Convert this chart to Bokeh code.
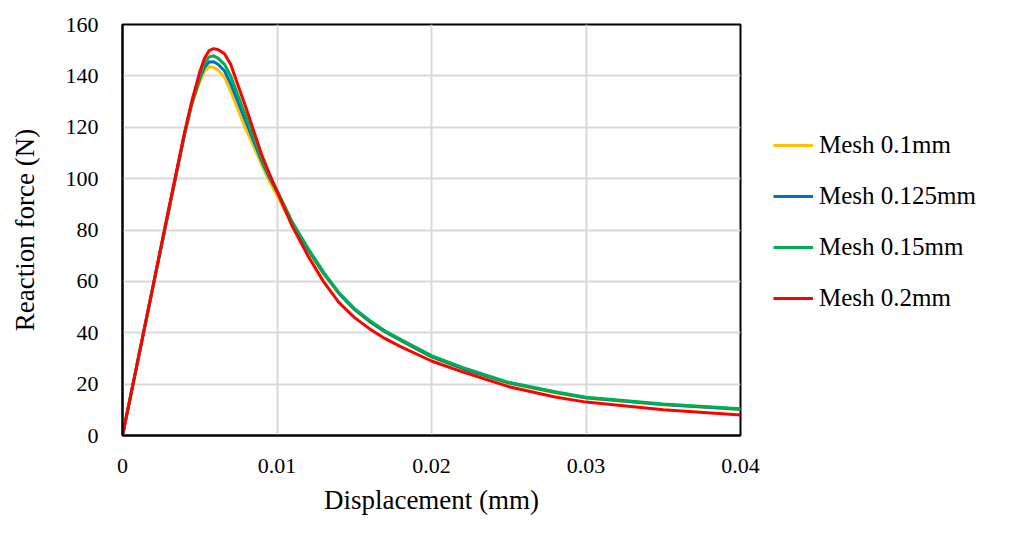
from bokeh.plotting import figure
from bokeh.models import Range1d, FixedTicker, Legend, LegendItem
from bokeh.embed import file_html
from bokeh.resources import INLINE

# displacement (mm)
disp = [0, 0.001, 0.002, 0.003, 0.004, 0.0045, 0.005, 0.0053, 0.0056, 0.0059, 0.0062,
        0.0066, 0.007, 0.0075, 0.008, 0.0085, 0.009, 0.0095, 0.01, 0.011, 0.012, 0.013,
        0.014, 0.015, 0.016, 0.017, 0.018, 0.02, 0.022, 0.025, 0.028, 0.03, 0.035, 0.04]

mesh_01 = [0, 29.2, 58.5, 87.5, 116.5, 129.0, 137.5, 141.8, 143.6, 143.4, 142.2,
           139.5, 134.0, 126.5, 119.0, 112.5, 105.5, 99.0, 93.5, 81.8, 72.0, 63.0,
           55.2, 49.0, 44.2, 40.2, 36.9, 30.5, 25.9, 20.3, 16.6, 14.6, 12.0, 10.1]
mesh_0125 = [0, 29.3, 58.6, 87.8, 116.8, 129.5, 139.0, 143.3, 145.4, 145.5, 144.4,
             142.0, 137.0, 129.5, 122.0, 114.5, 107.0, 100.5, 95.0, 82.5, 72.5, 63.3,
             55.4, 49.2, 44.4, 40.4, 37.1, 30.7, 26.1, 20.5, 16.8, 14.7, 12.1, 10.2]
mesh_015 = [0, 29.4, 58.8, 88.0, 117.0, 130.0, 139.8, 144.8, 147.4, 147.8, 146.8,
            144.5, 140.0, 132.0, 124.0, 116.0, 108.0, 101.5, 95.5, 83.0, 73.0, 63.7,
            55.7, 49.5, 44.8, 40.7, 37.4, 31.1, 26.5, 20.7, 17.0, 14.9, 12.3, 10.4]
mesh_02 = [0, 29.5, 59.0, 88.5, 117.5, 130.5, 141.5, 146.8, 149.8, 150.6, 150.2,
           148.6, 144.5, 136.0, 127.5, 118.5, 109.5, 102.0, 95.0, 81.3, 70.0, 60.0,
           51.8, 46.0, 41.5, 37.7, 34.6, 29.0, 24.8, 19.0, 15.0, 13.0, 10.0, 8.0]

series_names = ["Mesh 0.1mm", "Mesh 0.125mm", "Mesh 0.15mm", "Mesh 0.2mm"]
series_colors = ["#FFC000", "#0070C0", "#00B050", "#FF0000"]
series_values = [mesh_01, mesh_0125, mesh_015, mesh_02]

x_ticks = [0, 0.01, 0.02, 0.03, 0.04]
x_tick_labels = ["0", "0.01", "0.02", "0.03", "0.04"]
y_ticks = [0, 20, 40, 60, 80, 100, 120, 140, 160]

FONT = "Liberation Serif"

p = figure(frame_width=618, frame_height=411, output_backend="svg", toolbar_location=None,
           x_range=Range1d(0, 0.04), y_range=Range1d(0, 160),
           min_border_left=122, min_border_right=0, min_border_top=24, min_border_bottom=90)

p.background_fill_color = "white"
p.border_fill_color = "white"
p.outline_line_color = "black"
p.outline_line_width = 2

p.xaxis.ticker = FixedTicker(ticks=x_ticks)
p.yaxis.ticker = FixedTicker(ticks=y_ticks)
p.xaxis.major_label_overrides = {t: l for t, l in zip(x_ticks, x_tick_labels)}

for ax in (p.xaxis, p.yaxis):
    ax.axis_line_color = "black"
    ax.axis_line_width = 2
    ax.major_tick_line_color = None
    ax.minor_tick_line_color = None
    ax.major_tick_in = 0
    ax.major_tick_out = 0
    ax.minor_tick_in = 0
    ax.minor_tick_out = 0
    ax.major_label_text_font = FONT
    ax.major_label_text_font_size = "22px"
    ax.major_label_text_color = "black"
    ax.axis_label_text_font = FONT
    ax.axis_label_text_font_size = "27px"
    ax.axis_label_text_font_style = "normal"
    ax.axis_label_text_color = "black"

p.xaxis.axis_label = "Displacement (mm)"
p.yaxis.axis_label = "Reaction force (N)"
p.xaxis.major_label_standoff = 23
p.yaxis.major_label_standoff = 24
p.xaxis.axis_label_standoff = 9
p.yaxis.axis_label_standoff = 23

p.xgrid.grid_line_color = "#d9d9d9"
p.ygrid.grid_line_color = "#d9d9d9"
p.xgrid.grid_line_width = 2
p.ygrid.grid_line_width = 2

items = []
for name, color, vals in zip(series_names, series_colors, series_values):
    r = p.line(disp, vals, line_color=color, line_width=3)
    items.append(LegendItem(label=name, renderers=[r]))

legend = Legend(items=items, location=(33, 123))
legend.label_text_font = FONT
legend.label_text_font_size = "25px"
legend.label_text_color = "black"
legend.glyph_width = 40
legend.glyph_height = 24
legend.label_height = 24
legend.label_standoff = 6
legend.spacing = 23
legend.padding = 0
legend.margin = 0
legend.border_line_color = None
legend.background_fill_alpha = 0
p.add_layout(legend, "right")

open("out.html", "w").write(file_html(p, INLINE))
